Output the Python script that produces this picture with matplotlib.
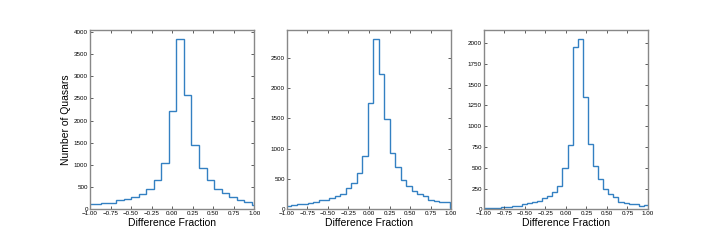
import numpy as np
import matplotlib
matplotlib.use("Agg")
import matplotlib.pyplot as plt

# Histogram bins (left edge of first bin, bin width)
left_start = [-1.047, -1.016, -1.034]
bin_width = [0.0917, 0.0668, 0.0620]

# Counts per bin, left to right
counts_1 = [112, 115, 135, 150, 200, 240, 285, 345, 450, 670, 1050, 2210,
            3850, 2570, 1455, 930, 650, 450, 360, 275, 200, 170, 95]
counts_2 = [61, 78, 80, 95, 100, 122, 155, 160, 185, 215, 250, 350, 430,
            600, 885, 1752, 2817, 2227, 1485, 933, 700, 491, 382, 300, 251,
            213, 153, 136, 115, 125, 20]
counts_3 = [10, 12, 15, 20, 22, 28, 35, 44, 68, 76, 84, 104, 131, 155, 203,
            285, 495, 780, 1960, 2056, 1347, 789, 518, 370, 243, 179, 151,
            92, 80, 64, 62, 45, 50, 55]

x_ticks = [-1.0, -0.75, -0.5, -0.25, 0.0, 0.25, 0.5, 0.75, 1.0]


def main():
    plt.rcParams["font.family"] = ["Liberation Sans", "DejaVu Sans"]

    fig, axes = plt.subplots(1, 3, figsize=(7.2, 2.4), dpi=100)
    fig.subplots_adjust(left=0.125, right=0.9, bottom=0.128, top=0.875, wspace=0.2)

    for ax, counts, start, width in zip(axes, [counts_1, counts_2, counts_3],
                                        left_start, bin_width):
        edges = start + width * np.arange(len(counts) + 1)
        ax.stairs(counts, edges, color="#3380c2", linewidth=1.0)
        ax.set_xlim(-1, 1)
        ax.set_ylim(0, max(counts) * 1.05)
        ax.set_xticks(x_ticks)
        ax.set_xticklabels([f"{t:.2f}".replace("-", "\u2212") for t in x_ticks])
        ax.tick_params(direction="in", top=True, right=True, labelsize=4.5,
                       length=2.5, width=0.6, color="#444444", pad=1.5)
        for spine in ax.spines.values():
            spine.set_color("#888888")
            spine.set_linewidth(1.0)
        ax.set_xlabel("Difference Fraction", fontsize=7.5, labelpad=1)

    axes[0].set_ylabel("Number of Quasars", fontsize=7.5, labelpad=2)

    fig.savefig("out.png", dpi=100)
    plt.close(fig)


if __name__ == "__main__":
    main()
